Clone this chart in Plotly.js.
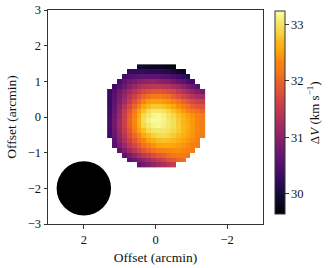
<!DOCTYPE html>
<html>
<head>
<meta charset="utf-8">
<script src="https://cdn.plot.ly/plotly-3.0.1.min.js"></script>
<style>html,body{margin:0;padding:0;background:#fff;}#plot{width:332px;height:268px;}</style>
</head>
<body>
<div id="plot"></div>
<script>
// Velocity map (km/s), rows from top (north) to bottom; each row starts at colStart[i]
const colStart = [6,4,3,2,1,0,0,0,0,0,0,0,0,0,0,1,1,2,3,4,6];
const rowValues = [
  [29.9,29.88,29.85,29.82,29.8,29.77,29.73,29.7],
  [30.25,30.25,30.25,30.25,30.22,30.2,30.18,30.15,30.1,30.0,29.9,29.8],
  [30.4,30.5,30.55,30.6,30.62,30.62,30.62,30.6,30.55,30.5,30.45,30.35,30.25,30.1],
  [30.4,30.6,30.75,30.85,30.95,31.0,31.05,31.05,31.0,30.95,30.9,30.8,30.7,30.6,30.45,30.35],
  [30.35,30.55,30.75,30.95,31.1,31.25,31.35,31.4,31.45,31.45,31.4,31.35,31.25,31.15,31.0,30.85,30.7,30.55],
  [30.3,30.5,30.75,31.0,31.2,31.4,31.55,31.7,31.8,31.85,31.85,31.8,31.75,31.65,31.5,31.35,31.2,31.05,30.9,30.8],
  [30.3,30.55,30.85,31.1,31.35,31.6,31.8,32.0,32.1,32.2,32.2,32.15,32.1,31.95,31.8,31.65,31.5,31.35,31.25,31.2],
  [30.3,30.6,30.9,31.2,31.5,31.8,32.05,32.3,32.45,32.5,32.5,32.45,32.4,32.3,32.15,32.0,31.85,31.7,31.6,31.55],
  [30.3,30.65,31.0,31.35,31.7,32.0,32.3,32.55,32.7,32.8,32.8,32.75,32.65,32.55,32.4,32.25,32.1,31.95,31.85,31.8],
  [30.35,30.7,31.1,31.5,31.85,32.2,32.5,32.75,32.95,33.05,33.05,33.0,32.88,32.75,32.6,32.45,32.32,32.2,32.1,32.0],
  [30.35,30.75,31.15,31.55,31.95,32.3,32.6,32.9,33.05,33.15,33.18,33.12,33.0,32.88,32.75,32.62,32.5,32.4,32.3,32.2],
  [30.4,30.8,31.2,31.6,32.0,32.35,32.65,32.95,33.12,33.2,33.2,33.15,33.05,32.95,32.8,32.68,32.55,32.45,32.32,32.22],
  [30.4,30.8,31.2,31.6,31.98,32.32,32.62,32.88,33.05,33.15,33.18,33.12,33.05,32.95,32.82,32.7,32.58,32.45,32.35,32.25],
  [30.38,30.75,31.15,31.52,31.88,32.2,32.5,32.75,32.92,33.02,33.06,33.04,32.98,32.9,32.8,32.68,32.56,32.45,32.35,32.25],
  [30.35,30.7,31.08,31.42,31.75,32.05,32.32,32.55,32.72,32.85,32.92,32.92,32.88,32.8,32.72,32.62,32.52,32.42,32.32,32.22],
  [30.62,30.98,31.3,31.6,31.88,32.12,32.33,32.5,32.63,32.72,32.75,32.73,32.68,32.6,32.52,32.44,32.36,32.28],
  [30.55,30.85,31.15,31.42,31.68,31.92,32.12,32.28,32.4,32.5,32.55,32.55,32.52,32.48,32.42,32.36,32.3,32.22],
  [30.65,30.92,31.18,31.42,31.65,31.85,32.0,32.12,32.22,32.3,32.35,32.38,32.38,32.35,32.3,32.22],
  [30.62,30.85,31.05,31.25,31.45,31.6,31.75,31.88,31.98,32.08,32.15,32.2,32.2,32.15],
  [30.6,30.75,30.9,31.05,31.2,31.35,31.5,31.65,31.8,31.92,32.02,32.08],
  [30.65,30.78,30.92,31.05,31.18,31.3,31.42,31.52]
];
const nCols = 20;
const colorTicks = [30,31,32,33];
const xTicks = [2,0,-2];
const yTicks = [-3,-2,-1,0,1,2,3];
const beam = {x:2, y:-2, r:0.76};

const z = rowValues.map((vals,i)=>{
  const row = new Array(nCols).fill(null);
  vals.forEach((v,j)=>{ row[colStart[i]+j] = v; });
  return row;
});

const inferno = [
  [0.0,'#000004'],[0.05,'#0a0722'],[0.1,'#160b39'],[0.15,'#2a0b55'],[0.2,'#420a68'],[0.25,'#57106e'],
  [0.3,'#6a176e'],[0.35,'#7f1e6c'],[0.4,'#932667'],[0.45,'#a82e5f'],[0.5,'#bc3754'],[0.55,'#cd4247'],
  [0.6,'#dd513a'],[0.65,'#e8602d'],[0.7,'#f37819'],[0.75,'#f8850f'],[0.8,'#fca50a'],[0.85,'#fbb81b'],
  [0.9,'#f6d746'],[0.95,'#f3e96e'],[1.0,'#fcffa4']
];

const font = 'Liberation Serif, Times New Roman, serif';
const axisCol = '#333';
const txtCol = '#111';

const trace = {
  type:'heatmap', z:z,
  x0:1.281, dx:-0.137, y0:1.407, dy:-0.137,
  colorscale:inferno, zmin:29.63, zmax:33.24, zsmooth:false,
  hoverongaps:false,
  colorbar:{
    thickness:10, thicknessmode:'pixels', len:203, lenmode:'pixels',
    x:1.0544, xanchor:'left', xpad:0, y:0.52, yanchor:'middle', ypad:0,
    outlinewidth:1, outlinecolor:axisCol,
    ticks:'outside', ticklen:3.5, tickcolor:axisCol, tickwidth:1,
    tickvals:colorTicks, tickfont:{family:font, size:12.5, color:txtCol},
    title:{text:'Δ<i>V</i> (km s<sup>−1</sup>)', side:'right', font:{family:font, size:13, color:txtCol}}
  }
};

const layout = {
  width:332, height:268,
  margin:{l:48, r:69, t:10, b:44, pad:0},
  paper_bgcolor:'#fff', plot_bgcolor:'#fff',
  font:{family:font, size:12.5, color:txtCol},
  xaxis:{range:[3,-3], tickvals:xTicks, ticks:'outside', ticklen:3.5, tickcolor:axisCol,
    showline:true, linecolor:axisCol, linewidth:1, mirror:true, showgrid:false, zeroline:false,
    tickfont:{family:font, size:12.5, color:txtCol}, title:{text:'Offset (arcmin)', font:{family:font, size:13.5, color:txtCol}, standoff:7}},
  yaxis:{range:[-3,3], tickvals:yTicks, ticks:'outside', ticklen:3.5, tickcolor:axisCol,
    showline:true, linecolor:axisCol, linewidth:1, mirror:true, showgrid:false, zeroline:false,
    tickfont:{family:font, size:12.5, color:txtCol}, title:{text:'Offset (arcmin)', font:{family:font, size:13.5, color:txtCol}, standoff:7}},
  shapes:[{type:'circle', xref:'x', yref:'y', x0:beam.x+beam.r, x1:beam.x-beam.r, y0:beam.y-beam.r, y1:beam.y+beam.r,
    fillcolor:'#000', line:{width:0}, layer:'above'}]
};

Plotly.newPlot('plot',[trace],layout,{displayModeBar:false, staticPlot:true});
</script>
</body>
</html>
